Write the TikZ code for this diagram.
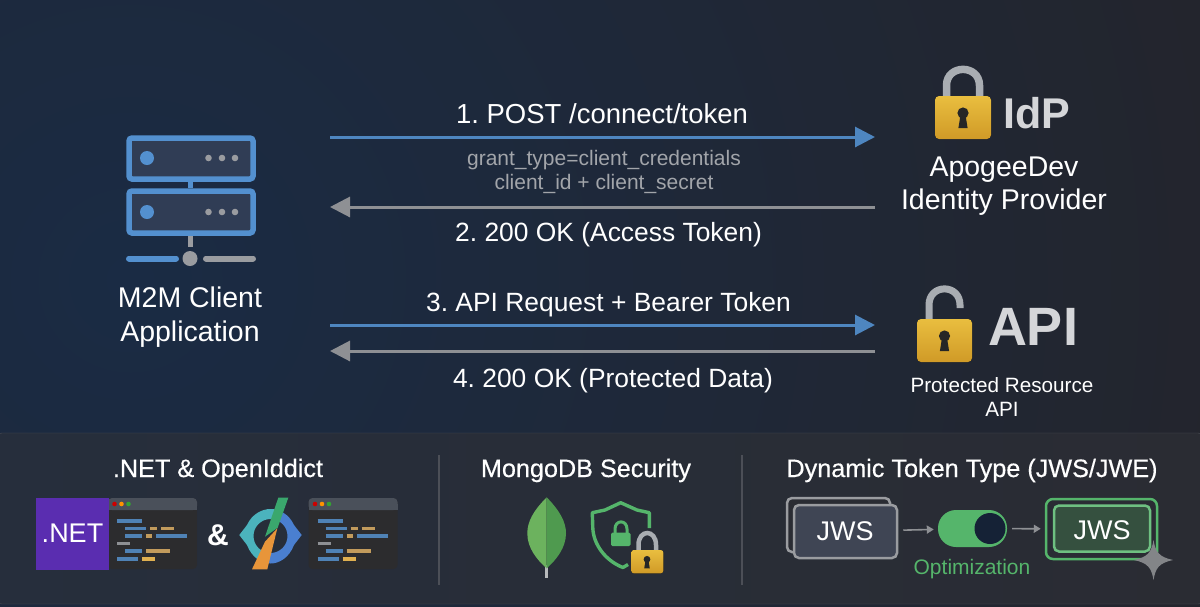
\documentclass[tikz,border=0pt]{standalone}
\usepackage{fontspec}
\setmainfont{Liberation Sans}
\usetikzlibrary{arrows.meta}
\frenchspacing

\definecolor{bgleft}{HTML}{1A2B44}
\definecolor{bgright}{HTML}{23252D}
\definecolor{panelleft}{HTML}{262E3C}
\definecolor{panelright}{HTML}{2A2C33}
\definecolor{panelline}{HTML}{4C4F57}
\definecolor{flowblue}{HTML}{4E86C0}
\definecolor{flowgrey}{HTML}{8E9094}
\definecolor{srvblue}{HTML}{5390CF}
\definecolor{srvfill}{HTML}{303D55}
\definecolor{srvgrey}{HTML}{9A9CA0}
\definecolor{goldtop}{HTML}{E9BE3F}
\definecolor{goldbot}{HTML}{D09A27}
\definecolor{steel}{HTML}{A9ADB2}
\definecolor{softtext}{HTML}{A2A5AA}
\definecolor{logotext}{HTML}{D5D6D9}
\definecolor{okgreen}{HTML}{55B56B}
\definecolor{codeblue}{HTML}{4F82B5}
\definecolor{codetan}{HTML}{C29B5C}
\definecolor{codegold}{HTML}{E0B050}
\definecolor{netpurple}{HTML}{5A2DB0}
\definecolor{winbody}{HTML}{2C2C2E}
\definecolor{winbar}{HTML}{4A505A}
\definecolor{cardfill}{HTML}{3F4554}
\definecolor{cardgreen}{HTML}{35503F}
\definecolor{leafa}{HTML}{6CB25E}
\definecolor{leafb}{HTML}{4F9A4F}
\definecolor{ringteal}{HTML}{4BB3BD}
\definecolor{ringblue}{HTML}{4A7FD0}
\definecolor{slashgreen}{HTML}{3AA76D}
\definecolor{slashorange}{HTML}{E8953A}

\tikzset{
	msgtext/.style={text=white,anchor=base,font=\fontsize{26.4}{30}\selectfont},
	subtext/.style={text=softtext,font=\fontsize{21}{23.5}\selectfont,align=center},
	nametext/.style={text=white,font=\fontsize{28.5}{33.5}\selectfont,align=center},
	pantitle/.style={text=white,anchor=base,font=\fontsize{25.2}{28}\selectfont\addfontfeatures{FakeBold=0.4}},
	logotitle/.style={text=logotext},
	flowreq/.style={draw=flowblue,line width=3pt,-{Triangle[length=20pt,width=20pt]}},
	flowres/.style={draw=flowgrey,line width=3pt,-{Triangle[length=20pt,width=20pt]}},
	tinyarrow/.style={draw=flowgrey,line width=1.6pt,-{Triangle[length=7pt,width=8pt]},shorten >=4pt,shorten <=5pt},
	rack/.style={draw=srvblue,fill=srvfill,line width=5.5pt,rounded corners=3pt},
	jwscard/.style={draw=srvgrey,line width=2.5pt,rounded corners=5pt,minimum width=103pt,minimum height=54pt,inner sep=0pt},
	jwstext/.style={text=white,font=\fontsize{27}{30}\selectfont},
	shield/.style={draw=okgreen,line width=3.4pt,line join=round},
	codebar/.style={line width=3.3pt},
	keyhole/.pic={
		\fill[black!85] (0,0) circle (5.6);
		\fill[black!85] (-2.5,2) -- (2.5,2) -- (4.6,15) -- (-4.6,15) -- cycle;
	},
	codewin/.pic={
		\fill[fill=winbody,rounded corners=4pt] (0,0) rectangle (89,71);
		\fill[fill=winbar,rounded corners=4pt] (0,0) rectangle (89,12);
		\fill[fill=winbar] (0,6) rectangle (89,12);
		\fill[red!80!black] (6.5,6) circle (2.3);
		\fill[orange!85!yellow] (13.5,6) circle (2.3);
		\fill[green!55!black!80!white] (20.5,6) circle (2.3);
		\foreach \xa/\xb/\ya/\col in {9/34/23/codeblue, 17/38/30.5/codeblue, 42/49/30.5/codetan, 53/66/30.5/codetan,
			17/34/38/codeblue, 38/44/38/codetan, 48/79/38/codeblue, 9/22/45.5/flowgrey,
			17/34/53/codeblue, 38/62/53/codetan, 9/30/61/codeblue, 34/47/61/codegold}
			\draw[codebar,\col] (\xa,\ya) -- (\xb,\ya);
	},
}

\begin{document}
\begin{tikzpicture}[x=1pt,y=-1pt]

	\useasboundingbox (0,0) rectangle (1200,606);
	\fill[bgright] (0,0) rectangle (1200,606);
	\begin{scope}
		\clip (0,0) rectangle (1200,606);
		\shade[inner color=bgleft,outer color=bgright] (-970,-820) rectangle (1230,1380);
	\end{scope}
	\shade[left color=panelleft,right color=panelright,rounded corners=6pt] (-4,433) rectangle (1204,604);
	\draw[panelline,rounded corners=6pt] (-4,433) rectangle (1204,604);

	% client
	\path[rack] (129,138) rectangle (253,179);
	\path[rack] (129,191) rectangle (253,233);
	\fill[srvblue] (187.5,182) rectangle (192.5,188);
	\fill[srvblue] (147,158) circle (7);
	\fill[srvblue] (147,212) circle (7);
	\foreach \dotx in {208.5,222,235} {
		\fill[srvgrey] (\dotx,158) circle (3.3);
		\fill[srvgrey] (\dotx,212) circle (3.3);
	}
	\fill[srvgrey] (187.5,236) rectangle (192.5,247);
	\draw[srvblue,line width=6pt,line cap=round] (129,258.5) -- (176,258.5);
	\draw[srvgrey,line width=6pt,line cap=round] (206,258.5) -- (253,258.5);
	\fill[srvgrey] (190,258.5) circle (7.5);
	\node[nametext] (client) at (190, 317) {M2M Client\\Application};

	% flow
	\coordinate (post0) at (330, 137);
	\coordinate (post1) at (875, 137);
	\coordinate (tok0) at (875, 207);
	\coordinate (tok1) at (330, 207);
	\coordinate (call0) at (330, 325);
	\coordinate (call1) at (875, 325);
	\coordinate (data0) at (875, 351);
	\coordinate (data1) at (330, 351);

	\path (post0) edge[flowreq] (post1);
	\path (tok0) edge[flowres] (tok1);
	\path (call0) edge[flowreq] (call1);
	\path (data0) edge[flowres] (data1);

	\node[msgtext,font=\fontsize{27.5}{30}\selectfont] (postlabel) at (602, 123) {1. POST /connect/token};
	\node[subtext] (postsub) at (604, 172) {grant\_type=client\_credentials\\client\_id + client\_secret};
	\node[msgtext] (toklabel) at (608.5, 241) {2. 200 OK (Access Token)};
	\node[msgtext] (calllabel) at (608.5, 311) {3. API Request + Bearer Token};
	\node[msgtext] (datalabel) at (613, 387) {4. 200 OK (Protected Data)};

	% idp
	\draw[steel,line width=7.5pt] (946.5,100) -- (946.5,85.5) .. controls (946.5,64) and (979.5,64) .. (979.5,85.5) -- (979.5,100);
	\fill[top color=goldtop,bottom color=goldbot,rounded corners=4pt] (935,96) rectangle (991,139);
	\pic at (963,113) {keyhole};
	\node[logotitle,font=\fontsize{43}{48}\selectfont\bfseries] (idp) at (1037, 113) {IdP};
	\node[nametext] (idpname) at (1004, 186) {ApogeeDev\\Identity Provider};

	% api
	\draw[steel,line width=7pt] (929,322) -- (929,305) .. controls (929,283.5) and (960,283.5) .. (960,305) -- (960,308);
	\fill[top color=goldtop,bottom color=goldbot,rounded corners=4pt] (917,319) rectangle (972,362);
	\pic at (944.5,336) {keyhole};
	\node[logotitle,font=\fontsize{54}{60}\selectfont\bfseries] (api) at (1033, 327) {API};
	\node[text=white,font=\fontsize{20.7}{24}\selectfont,align=center] (apiname) at (1002, 396.5) {Protected Resource\\API};

	% panel
	\draw[panelline,line width=1.2pt] (439,455) -- (439,585);
	\draw[panelline,line width=1.2pt] (742,455) -- (742,585);
	\node[pantitle] (nettitle) at (218, 477) {.NET \& OpenIddict};
	\node[pantitle] (mongotitle) at (586, 477) {MongoDB Security};
	\node[pantitle] (tokentitle) at (972, 477) {Dynamic Token Type (JWS/JWE)};

	\pic at (108,498) {codewin};
	\fill[netpurple] (36,498) rectangle (108.5,569.5);
	\node[text=white,font=\fontsize{27}{30}\selectfont] (netlabel) at (72.5, 533) {.NET};
	\node[text=white,font=\fontsize{30}{32}\selectfont\bfseries] (amp) at (218, 535) {\&};
	\pic at (308.5,498) {codewin};

	% openiddict
	\begin{scope}
		\clip (230,490) -- (283,490) -- (260,580) -- (230,580) -- cycle;
		\fill[fill=ringteal,even odd rule] (239.3,535) -- (247,525) .. controls (252,514) and (262,509) .. (270.5,509) .. controls (279,509) and (289,514) .. (294,525) -- (301.7,535) -- (294,545) .. controls (289,558) and (279,563.5) .. (270.5,563.5) .. controls (262,563.5) and (252,558) .. (247,545) -- cycle (270.5,536) circle (17);
	\end{scope}
	\begin{scope}
		\clip (310,490) -- (283,490) -- (260,580) -- (310,580) -- cycle;
		\fill[fill=ringblue,even odd rule] (239.3,535) -- (247,525) .. controls (252,514) and (262,509) .. (270.5,509) .. controls (279,509) and (289,514) .. (294,525) -- (301.7,535) -- (294,545) .. controls (289,558) and (279,563.5) .. (270.5,563.5) .. controls (262,563.5) and (252,558) .. (247,545) -- cycle (270.5,536) circle (17);
	\end{scope}
	\fill[slashgreen] (278.3,497.7) -- (288.3,497.7) -- (277.7,527.7) -- (265,536.7) -- cycle;
	\fill[slashorange] (277.3,528.3) -- (265,541.7) -- (252,569.3) -- (267.3,569.3) -- cycle;

	% mongodb
	\draw[srvgrey!70!white,line width=2.5pt] (546.7,565) -- (546.7,578.3);
	\fill[leafa] (546.7,497.3) .. controls (533,511) and (527.3,522) .. (527.3,533.3) .. controls (527.3,548) and (537,560) .. (546.7,568.3) -- cycle;
	\fill[leafb] (546.7,497.3) .. controls (560,511) and (566,522) .. (566,533.3) .. controls (566,548) and (556,560) .. (546.7,568.3) -- cycle;
	\draw[shield] (649.3,528) -- (649.3,512.7) -- (637,510) -- (620.7,502.7) -- (605,510) -- (592.3,512.7) -- (592.8,528) .. controls (593.5,545) and (606,561) .. (623,567.5) -- (628,564.5);
	\draw[okgreen,line width=3pt] (615,534) -- (615,529) .. controls (615,519.5) and (627,519.5) .. (627,529) -- (627,534);
	\fill[okgreen,rounded corners=1.5pt] (611,532.7) rectangle (630.7,546);
	\draw[steel,line width=4.5pt] (638.5,552) -- (638.5,545) .. controls (638.5,529) and (656,529) .. (656,545) -- (656,552);
	\fill[top color=goldtop,bottom color=goldbot,rounded corners=2.5pt] (631.3,550) rectangle (663.3,573.3);
	\pic[scale=0.6] at (647,559.3) {keyhole};

	% token type
	\node[jwscard,fill=panelright] (jwsback) at (838.5, 525) {};
	\node[jwscard,fill=cardfill,minimum height=53pt] (jwsfront) at (845.5, 531.5) {};
	\node[jwstext] (jwslabel) at (845, 531) {JWS};
	\node[draw=none,fill=okgreen,rounded corners=18pt,minimum width=69pt,minimum height=37pt,inner sep=0pt] (switch) at (972.5, 528.5) {};
	\fill[bgleft!80!black] (990,528.5) circle (15.5);
	\node[draw=okgreen,line width=2.5pt,rounded corners=7pt,minimum width=111pt,minimum height=60pt,inner sep=0pt] (jwsout) at (1101.5, 529) {};
	\node[draw=okgreen!85!white,fill=cardgreen,line width=2.5pt,rounded corners=5pt,minimum width=96pt,minimum height=46pt,inner sep=0pt] (jwsinner) at (1102, 528.5) {};
	\node[jwstext] (jwsoutlabel) at (1102, 530) {JWS};
	\path (jwsfront) edge[tinyarrow] (switch);
	\path (switch) edge[tinyarrow] (jwsout);
	\node[text=okgreen,font=\fontsize{21}{23}\selectfont] (optlabel) at (972, 569) {Optimization};

	\fill[srvgrey!85!black] (1153.5,540) .. controls (1155.5,552) and (1159,557) .. (1173,560) .. controls (1159,563) and (1155.5,568) .. (1153.5,580) .. controls (1151.5,568) and (1148,563) .. (1134,560) .. controls (1148,557) and (1151.5,552) .. (1153.5,540) -- cycle;

\end{tikzpicture}
\end{document}
